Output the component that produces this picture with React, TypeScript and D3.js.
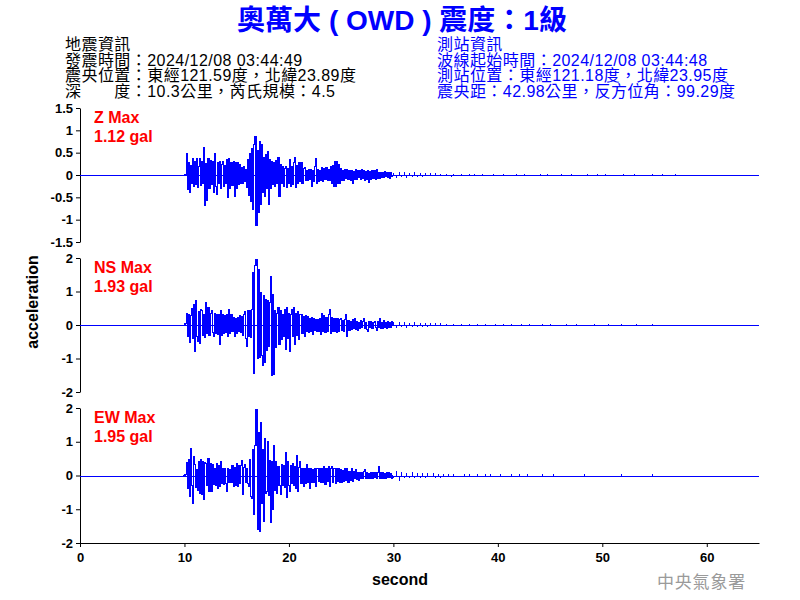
import React, { useEffect, useRef } from 'react';
import * as d3 from 'd3';

const titleText = '奧萬大 ( OWD ) 震度：1級';
const quakeInfo = [
  '地震資訊',
  '發震時間：2024/12/08 03:44:49',
  '震央位置：東經121.59度，北緯23.89度',
  '深　　度：10.3公里，芮氏規模：4.5',
];
const stationInfo = [
  '測站資訊',
  '波線起始時間：2024/12/08 03:44:48',
  '測站位置：東經121.18度，北緯23.95度',
  '震央距：42.98公里，反方位角：99.29度',
];

const channels = ['Z', 'NS', 'EW'];
const maxValues = [1.12, 1.93, 1.95];
const yLimits = [1.5, 2, 2];
const yTicks = [
  [1.5, 1, 0.5, 0, -0.5, -1, -1.5],
  [2, 1, 0, -1, -2],
  [2, 1, 0, -1, -2],
];
const xTicks = [0, 10, 20, 30, 40, 50, 60];

// sampling of the traces
const onsetStart = 10;
const onsetStep = 0.1;
const codaStart = 30;
const codaStep = 0.25;
const recordEnd = 65;

// 10.0 s .. 29.9 s, every 0.1 s
const zOnset = [
  0, 0.02, 0.49, -0.32, 0.28, -0.4, 0.22, -0.18, 0.37, -0.26,
  0.3, -0.22, 0.36, -0.29, 0.18, 0.38, -0.24, 0.3, -0.2, 0.62,
  -0.69, 0.25, -0.57, 0.38, -0.3, 0.32, -0.22, 0.3, -0.4, 0.48,
  -0.25, -0.43, 0.28, -0.2, 0.31, -0.3, 0.24, 0.31, -0.26, 0.22,
  -0.18, 0.35, -0.5, 0.38, -0.3, 0.28, -0.24, 0.31, -0.48, 0.27,
  -0.3, 0.27, -0.22, 0.24, -0.18, 0.16, -0.2, 0.2, -0.15, 0.12,
  -0.29, 0.34, -0.45, 0.48, -0.59, 0.6, -0.78, 0.68, 0.87, -1.12,
  0.55, -0.85, 0.75, -0.66, 0.68, -0.4, 0.4, -0.48, 0.46, -0.3,
  0.53, -0.66, 0.34, -0.3, 0.3, -0.22, 0.28, -0.25, 0.32, -0.2,
  0.4, -0.48, 0.23, -0.18, 0.2, -0.25, 0.15, 0.19, -0.29, 0.14,
  -0.2, 0.34, -0.25, 0.2, -0.22, 0.28, 0.4, -0.29, 0.22, -0.2,
  0.27, -0.15, 0.27, -0.18, 0.14, 0.16, -0.12, 0.1, -0.12, 0.12,
  -0.1, 0.12, -0.25, 0.1, -0.15, 0.2, 0.38, -0.2, 0.12, -0.15,
  0.1, -0.12, 0.17, -0.15, 0.14, -0.1, 0.17, -0.12, 0.12, -0.12,
  0.18, -0.2, 0.22, -0.26, 0.31, -0.25, 0.3, -0.2, 0.23, -0.18,
  0.15, -0.12, 0.1, -0.13, 0.12, -0.08, 0.13, -0.1, 0.09, -0.12,
  0.11, -0.2, 0.08, -0.1, 0.12, -0.09, 0.1, -0.06, 0.11, -0.1,
  0.13, -0.08, 0.09, -0.12, 0.07, -0.1, 0.1, -0.16, 0.08, -0.09,
  0.1, -0.07, 0.09, -0.1, 0.13, -0.08, 0.06, -0.08, 0.05, -0.06,
  0.06, -0.05, 0.07, -0.04, 0.06, -0.06, 0.05, -0.07, 0.05, -0.04,
];
// 30.0 s .. 58.0 s, every 0.25 s (spike heights)
const zCoda = [
  0.05, -0.07, 0.06, -0.05, 0.07, -0.06, 0.05, -0.04, 0.06, -0.05,
  0.05, -0.04, 0.05, 0, 0.04, -0.03, 0.04, 0, 0.03, -0.03,
  0.03, 0, -0.04, 0.03, 0, -0.03, 0.03, 0, -0.03, 0.02,
  0, 0.03, -0.02, 0, 0.03, 0, -0.02, 0, 0.02, 0,
  -0.02, 0, 0.02, 0, 0, -0.02, 0, 0.02, 0, 0,
  0.02, 0, 0, -0.02, 0, 0, 0.03, 0, 0, 0.02,
  0, 0, -0.02, 0, 0.02, 0, 0, 0, 0.02, 0,
  0, -0.02, 0, 0, 0.02, 0, 0, 0, 0.02, 0,
  0, 0.02, 0, 0, 0, -0.02, 0, 0, 0.02, 0,
  0, 0, 0.02, 0, 0, 0, -0.02, 0, 0, 0.02,
  0, 0, 0, 0.02, 0, 0, 0, 0, 0.02, 0,
  0, 0, 0,
];

const nsOnset = [
  0, 0.05, 0.35, -0.33, 0.3, -0.53, 0.28, 0.5, -0.4, 0.62,
  -0.78, 0.72, -0.35, -0.48, 0.4, -0.55, 0.47, 0.42, -0.3, 0.32,
  -0.38, 0.67, -0.25, 0.52, -0.3, 0.35, 0.42, -0.22, -0.33, 0.35,
  -0.25, 0.3, -0.28, 0.32, -0.58, 0.42, -0.3, 0.32, -0.25, 0.28,
  -0.22, 0.3, -0.33, 0.45, -0.25, 0.32, -0.2, 0.22, -0.33, 0.2,
  -0.25, 0.22, -0.2, 0.27, -0.22, 0.25, -0.3, 0.3, 0.39, -0.4,
  -0.63, 0.42, -0.35, 0.42, -0.38, 0.45, 1.56, -1.44, 1.78, 1.96,
  -1.0, 1.66, -0.98, 0.97, -0.9, -1.22, 0.87, -1.12, 0.77, -0.75,
  0.72, -0.63, 0.67, 1.44, -1.52, 0.92, -1.47, 0.42, -0.68, 0.35,
  0.52, -0.58, 0.42, -0.43, 0.32, -0.35, 0.45, -0.73, 0.52, -0.4,
  0.35, -0.78, 0.3, 0.47, -0.35, 0.52, -0.58, 0.35, -0.3, 0.39,
  -0.43, 0.3, 0.32, -0.25, 0.25, -0.33, 0.27, -0.2, 0.25, -0.22,
  0.2, -0.18, 0.22, -0.28, 0.2, -0.15, 0.17, -0.2, 0.15, -0.18,
  0.2, -0.28, 0.35, -0.2, 0.27, -0.22, 0.22, -0.18, 0.3, 0.47,
  -0.25, 0.22, -0.2, 0.2, -0.18, 0.19, -0.22, 0.18, -0.2, 0.16,
  0.2, -0.15, 0.12, -0.2, 0.15, 0.3, -0.35, 0.12, -0.15, 0.1,
  -0.12, 0.15, -0.1, 0.2, -0.12, 0.1, -0.15, 0.08, -0.1, 0.12,
  -0.08, 0.1, 0.2, -0.1, 0.08, -0.12, -0.18, 0.1, -0.08, 0.09,
  -0.1, 0.08, 0.1, -0.07, -0.15, 0.09, -0.08, 0.18, -0.1, 0.08,
  -0.09, 0.12, -0.08, 0.07, -0.1, 0.09, -0.06, 0.08, -0.07, 0.1,
];
const nsCoda = [
  0.09, -0.08, 0.1, -0.07, 0.08, -0.09, 0.07, -0.06, 0.08, -0.07,
  0.06, -0.05, 0.06, -0.05, 0.05, 0, 0.05, -0.04, 0.05, 0,
  0.04, -0.04, 0, 0.04, -0.04, 0, 0.04, -0.03, 0, 0.04,
  -0.03, 0, 0.04, 0, -0.03, 0.03, 0, -0.03, 0, 0.03,
  0, -0.03, 0.03, 0, 0, 0.03, 0, -0.03, 0, 0.03,
  0, 0, 0.03, 0, -0.03, 0, 0, 0.03, 0, 0,
  0.03, 0, 0, -0.03, 0, 0, 0.03, 0, 0, 0,
  0.03, 0, 0, 0, -0.03, 0, 0, 0.03, 0, 0,
  0, 0, 0.03, 0, 0, 0, 0, 0.03, 0, 0,
  0, 0, 0, 0.03, 0, 0, 0, 0, 0, 0.03,
  0, 0, 0, 0, 0, 0, 0, 0, 0, 0,
  0, 0, 0,
];

const ewOnset = [
  0, 0.03, 0.39, -0.38, 0.47, -0.62, 0.81, -0.3, -0.82, 0.56,
  0.32, -0.35, 0.19, -0.43, 0.42, -0.52, 0.47, -0.57, 0.42, -0.72,
  0.39, 0.37, -0.3, 0.51, -0.48, 0.35, -0.48, 0.32, -0.28, 0.22,
  -0.3, 0.37, -0.38, 0.3, -0.33, 0.42, -0.25, 0.22, -0.28, 0.2,
  -0.25, -0.48, 0.22, -0.2, 0.17, -0.22, 0.29, -0.33, 0.25, -0.3,
  0.37, -0.33, 0.3, -0.25, 0.3, 0.45, -0.57, 0.25, 0.32, -0.2,
  0.22, -0.23, -0.33, 0.47, -0.62, -0.67, 0.78, -1.17, 0.9, 1.95,
  -1.61, 1.26, -1.66, 1.57, -0.82, 0.76, -1.37, 1.11, -0.52, -0.48,
  1.01, -0.6, 0.45, -1.39, 0.42, -1.02, 0.88, -0.45, 0.42, -0.52,
  0.27, -0.3, -0.57, 0.32, -0.3, 0.3, -0.35, 0.68, -0.64, 0.42,
  -0.3, -0.48, 0.3, -0.25, 0.37, -0.3, 0.27, -0.38, 0.58, -0.48,
  0.25, 0.42, -0.25, 0.2, -0.33, 0.22, -0.25, 0.32, -0.2, 0.22,
  -0.38, 0.2, -0.22, 0.17, -0.2, 0.22, -0.33, 0.2, 0.22, -0.18,
  0.2, -0.22, 0.22, -0.2, 0.27, -0.28, 0.2, -0.18, 0.27, -0.33,
  0.2, 0.27, -0.22, 0.2, 0.22, -0.25, 0.2, -0.18, 0.22, -0.2,
  0.18, -0.2, 0.15, -0.18, 0.2, -0.15, 0.2, -0.22, 0.12, -0.15,
  0.2, -0.18, 0.12, -0.1, 0.17, -0.12, 0.1, -0.15, 0.08, -0.1,
  0.1, -0.08, 0.12, 0.18, -0.1, 0.08, -0.1, 0.07, -0.08, 0.1,
  -0.08, 0.1, -0.07, 0.08, -0.1, 0.09, 0.27, -0.1, 0.08, -0.1,
  0.09, -0.08, 0.07, -0.1, 0.08, -0.06, 0.1, -0.07, 0.06, -0.08,
];
const ewCoda = [
  -0.08, 0.12, -0.15, 0.1, -0.08, 0.08, -0.07, 0.09, -0.08, 0.07,
  -0.06, 0.08, -0.06, 0.06, -0.05, 0.06, -0.06, 0.05, -0.06, 0.05,
  -0.05, 0.05, 0, 0.04, -0.04, 0, -0.04, 0.05, 0, 0.04,
  -0.03, 0, 0.04, 0, -0.03, 0.03, 0, 0.03, 0, -0.03,
  0, 0.03, 0, 0, -0.03, 0.03, 0, 0, 0.03, 0,
  0, 0.03, 0, 0, -0.03, 0, 0, 0.03, 0, 0,
  0, 0.03, 0, 0, 0, 0, -0.03, 0, 0, 0,
  0, 0, 0, 0.03, 0, 0, 0, 0, 0, 0,
  -0.03, 0, 0, 0, 0, 0, 0, 0.03, 0, 0,
  0, -0.03, 0, 0, 0, 0, 0, -0.03, 0, 0.03,
  0, 0, 0, 0, 0, 0, 0, 0, 0, 0,
  0, 0, 0,
];

const traces = [
  [zOnset, zCoda],
  [nsOnset, nsCoda],
  [ewOnset, ewCoda],
];

const FONT = "'Liberation Sans', Arial, 'Noto Sans CJK TC', sans-serif";
const CJK_FONT = "'Noto Sans CJK TC', sans-serif";

const App: React.FC = () => {
  const ref = useRef<SVGSVGElement | null>(null);

  useEffect(() => {
    if (!ref.current) return;
    const svg = d3.select(ref.current);
    svg.selectAll('*').remove();

    const left = 80;
    const right = 759;
    const panelTops = [108, 258, 408];
    const panelBottoms = [242, 392, 543];

    svg.append('rect').attr('width', 800).attr('height', 600).attr('fill', '#fff');

    // title + info block
    svg
      .append('text')
      .attr('x', 402)
      .attr('y', 30)
      .attr('text-anchor', 'middle')
      .attr('font-family', FONT)
      .attr('font-size', 28)
      .attr('font-weight', 'bold')
      .attr('fill', '#0000ff')
      .text(titleText);

    const infoY = [50, 65.5, 81, 96.5];
    quakeInfo.forEach((t, i) => {
      svg
        .append('text')
        .attr('x', 65)
        .attr('y', infoY[i])
        .attr('font-family', FONT)
        .attr('font-size', 16)
        .attr('letter-spacing', 0.45)
        .attr('fill', '#000')
        .text(t);
    });
    stationInfo.forEach((t, i) => {
      svg
        .append('text')
        .attr('x', 437)
        .attr('y', infoY[i])
        .attr('font-family', FONT)
        .attr('font-size', 16)
        .attr('letter-spacing', 0.45)
        .attr('fill', '#0000ff')
        .text(t);
    });

    const x = d3.scaleLinear().domain([0, recordEnd]).range([left, right]);

    channels.forEach((ch, i) => {
      const y = d3
        .scaleLinear()
        .domain([-yLimits[i], yLimits[i]])
        .range([panelBottoms[i], panelTops[i]]);

      const yAxis = svg
        .append('g')
        .attr('transform', `translate(${left},0)`)
        .call(
          d3
            .axisLeft(y)
            .tickValues(yTicks[i])
            .tickSize(4)
            .tickSizeOuter(0)
            .tickPadding(3)
            .tickFormat((d: any) => String(d))
        );
      yAxis
        .attr('font-family', FONT)
        .attr('font-size', 13)
        .attr('font-weight', 'bold');
      yAxis.selectAll('text').attr('fill', '#000');
      yAxis.selectAll('path, line').attr('stroke', '#000');

      const y0 = Math.round(y(0)) + 0.5;
      const [onset, coda] = traces[i];

      svg
        .append('line')
        .attr('x1', x(0))
        .attr('x2', x(recordEnd))
        .attr('y1', y0)
        .attr('y2', y0)
        .attr('stroke', '#0000ff')
        .attr('stroke-width', 1);

      // strong motion part: one column per sample, spanning from the
      // previous sample value to this one (like a dense trace on screen)
      const seg = onset.map((v, k) => ({
        t: onsetStart + k * onsetStep,
        a: k === 0 ? 0 : onset[k - 1],
        b: v,
      }));
      seg.push({ t: codaStart, a: onset[onset.length - 1], b: 0 });

      svg
        .append('g')
        .selectAll('rect')
        .data(seg)
        .join('rect')
        .attr('x', (d) => Math.round(x(d.t - onsetStep)))
        .attr('width', (d) =>
          Math.max(1, Math.round(x(d.t)) - Math.round(x(d.t - onsetStep)))
        )
        .attr('y', (d) => Math.floor(y(Math.max(d.a, d.b))))
        .attr('height', (d) =>
          Math.max(1, Math.ceil(y(Math.min(d.a, d.b))) - Math.floor(y(Math.max(d.a, d.b))))
        )
        .attr('fill', '#0000ff')
        .attr('shape-rendering', 'crispEdges');

      // coda as spikes off the zero line
      svg
        .append('g')
        .selectAll('line')
        .data(coda)
        .join('line')
        .attr('x1', (d, k) => Math.round(x(codaStart + k * codaStep)) + 0.5)
        .attr('x2', (d, k) => Math.round(x(codaStart + k * codaStep)) + 0.5)
        .attr('y1', y0)
        .attr('y2', (d) => y(d))
        .attr('stroke', '#0000ff')
        .attr('stroke-width', 1)
        .attr('shape-rendering', 'crispEdges');

      svg
        .append('text')
        .attr('x', 94)
        .attr('y', panelTops[i] + 15)
        .attr('font-family', FONT)
        .attr('font-size', 16)
        .attr('font-weight', 'bold')
        .attr('fill', '#ff0000')
        .text(`${ch} Max`);
      svg
        .append('text')
        .attr('x', 94)
        .attr('y', panelTops[i] + 34)
        .attr('font-family', FONT)
        .attr('font-size', 16)
        .attr('font-weight', 'bold')
        .attr('fill', '#ff0000')
        .text(`${maxValues[i]} gal`);
    });

    const xAxis = svg
      .append('g')
      .attr('transform', `translate(0,${panelBottoms[2]})`)
      .call(
        d3
          .axisBottom(x)
          .tickValues(xTicks)
          .tickSize(4)
          .tickSizeOuter(0)
          .tickPadding(6)
          .tickFormat((d: any) => String(d))
      );
    xAxis.attr('font-family', FONT).attr('font-size', 13).attr('font-weight', 'bold');
    xAxis.selectAll('text').attr('fill', '#000');
    xAxis.selectAll('path, line').attr('stroke', '#000');

    svg
      .append('text')
      .attr('x', 400)
      .attr('y', 585)
      .attr('text-anchor', 'middle')
      .attr('font-family', FONT)
      .attr('font-size', 16)
      .attr('font-weight', 'bold')
      .text('second');

    svg
      .append('text')
      .attr('transform', 'translate(38,302) rotate(-90)')
      .attr('text-anchor', 'middle')
      .attr('font-family', FONT)
      .attr('font-size', 16)
      .attr('font-weight', 'bold')
      .text('acceleration');

    svg
      .append('text')
      .attr('x', 657)
      .attr('y', 588)
      .attr('font-family', CJK_FONT)
      .attr('font-size', 17)
      .attr('letter-spacing', 0.8)
      .attr('fill', '#9a9a9a')
      .text('中央氣象署');
  }, []);

  return (
    <svg
      ref={ref}
      width={800}
      height={600}
      style={{ position: 'absolute', left: 0, top: 0, display: 'block' }}
    ></svg>
  );
};

export default App;
